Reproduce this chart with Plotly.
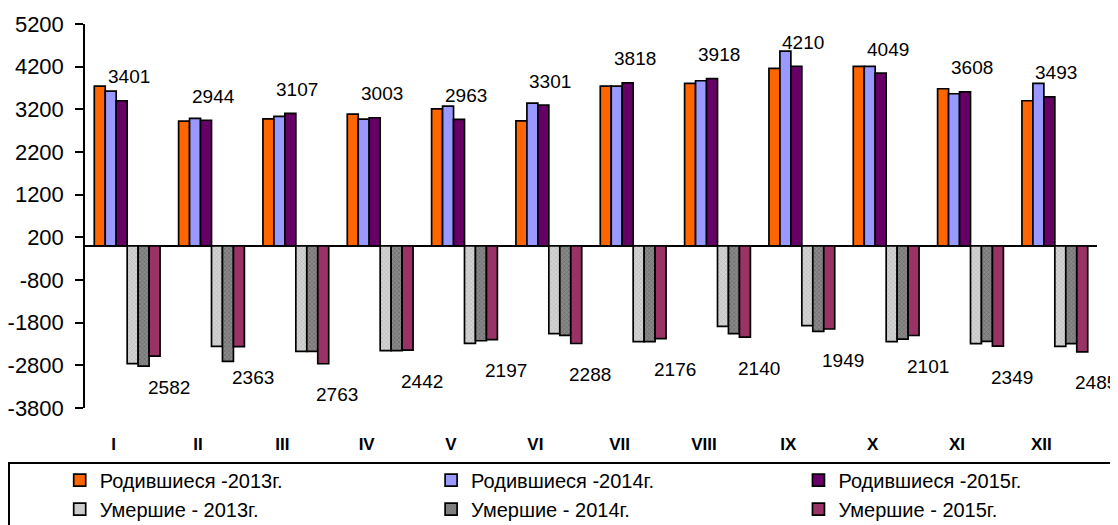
import plotly.graph_objects as go

months = ["I", "II", "III", "IV", "V", "VI", "VII", "VIII", "IX", "X", "XI", "XII"]

births_2013 = [3745, 2923, 2978, 3088, 3213, 2931, 3745, 3808, 4160, 4207, 3682, 3401]
births_2014 = [3627, 2987, 3034, 2970, 3275, 3346, 3745, 3870, 4566, 4207, 3565, 3808]
births_2015 = [3401, 2944, 3107, 3003, 2963, 3301, 3818, 3918, 4210, 4049, 3608, 3493]

deaths_2013 = [2762, 2356, 2473, 2457, 2286, 2058, 2246, 1887, 1871, 2246, 2293, 2356]
deaths_2014 = [2817, 2708, 2473, 2457, 2224, 2098, 2246, 2058, 2004, 2184, 2239, 2293]
deaths_2015 = [2582, 2363, 2763, 2442, 2197, 2288, 2176, 2140, 1949, 2101, 2349, 2485]

y_ticks = [-3800, -2800, -1800, -800, 200, 1200, 2200, 3200, 4200, 5200]
y_tick_labels = [str(v) for v in y_ticks]

FONT = "Liberation Sans, Arial, sans-serif"
idx = list(range(len(months)))

series = [
    ("Родившиеся -2013г.", births_2013, 1, dict(color="#FF6600"), "legend"),
    ("Родившиеся -2014г.", births_2014, 1, dict(color="#9999FF"), "legend2"),
    ("Родившиеся -2015г.", births_2015, 1, dict(color="#660066"), "legend3"),
    ("Умершие - 2013г.", deaths_2013, -1,
     dict(color="#D4D4D4", pattern=dict(shape="x", size=3, solidity=0.35, fgcolor="#9A9A9A")), "legend"),
    ("Умершие - 2014г.", deaths_2014, -1,
     dict(color="#8A8A8A", pattern=dict(shape="x", size=3, solidity=0.45, fgcolor="#505050")), "legend2"),
    ("Умершие - 2015г.", deaths_2015, -1, dict(color="#993366"), "legend3"),
]

fig = go.Figure()
for k, (name, vals, sign, mk, lg) in enumerate(series):
    mk = dict(mk)
    mk["line"] = dict(color="black", width=1.7)
    fig.add_trace(go.Bar(
        x=idx, y=[sign * v for v in vals], name=name, marker=mk,
        legend=lg, legendgroup=name, showlegend=True,
    ))

n_series = len(series)
bargap = 0.22
bw = (1 - bargap) / n_series

def bar_offset(k):
    return (k - (n_series - 1) / 2) * bw

annotations = []
for i in idx:
    annotations.append(dict(
        x=i + bar_offset(2), y=births_2015[i], xref="x", yref="y",
        text=str(births_2015[i]), showarrow=False, xshift=7, yshift=24,
        font=dict(family=FONT, size=19, color="black"),
    ))
    annotations.append(dict(
        x=i + bar_offset(5), y=-deaths_2015[i], xref="x", yref="y",
        text=str(deaths_2015[i]), showarrow=False, xshift=14, yshift=-31,
        font=dict(family=FONT, size=19, color="black"),
    ))

y0, y1 = y_ticks[0], y_ticks[-1]
zero_pos = (0 - y0) / (y1 - y0)

legend_common = dict(
    orientation="v", yanchor="top", y=-0.137, xanchor="left",
    font=dict(family=FONT, size=20, color="black"),
    bgcolor="rgba(0,0,0,0)", borderwidth=0, tracegroupgap=0,
    itemclick=False, itemdoubleclick=False,
)

# page body has an 8px margin; figure sized so the plot area lands where the reference has it
fig.update_layout(
    width=1110, height=517,
    margin=dict(l=77, r=21, t=16, b=117, autoexpand=False),
    paper_bgcolor="white", plot_bgcolor="white",
    barmode="group", bargap=bargap, bargroupgap=0,
    font=dict(family=FONT, size=17, color="black"),
    xaxis=dict(
        range=[-0.5, len(months) - 0.5],
        tickmode="array", tickvals=[i - 0.16 for i in idx], ticktext=months,
        ticks="outside", ticklen=21, tickcolor="rgba(0,0,0,0)",
        showline=False, showgrid=False, zeroline=False,
        tickfont=dict(family=FONT, size=17, color="black", weight="bold"),
    ),
    xaxis2=dict(
        overlaying="x", anchor="free", position=zero_pos,
        range=[-0.5, len(months) - 0.5],
        tickmode="array", tickvals=[i + 0.5 for i in idx],
        ticks="outside", ticklen=5, tickwidth=1.5, tickcolor="black",
        showticklabels=False, showline=False, showgrid=False, zeroline=False,
    ),
    yaxis=dict(
        range=[y0, y1], tickmode="array", tickvals=y_ticks, ticktext=y_tick_labels,
        ticks="outside", ticklen=8, tickwidth=1.5, tickcolor="black",
        ticklabelstandoff=7,
        showline=True, linecolor="black", linewidth=1.5,
        showgrid=False, zeroline=True, zerolinecolor="black", zerolinewidth=2,
        tickfont=dict(family=FONT, size=22, color="black"),
    ),
    legend=dict(legend_common, x=-0.025),
    legend2=dict(legend_common, x=0.342),
    legend3=dict(legend_common, x=0.705),
    annotations=annotations,
    shapes=[dict(
        type="rect", xref="paper", yref="paper",
        x0=-0.0751, x1=1.0158, y0=-0.1432, y1=-0.37,
        line=dict(color="black", width=2), fillcolor="rgba(0,0,0,0)",
    )],
)

fig.write_html("out.html")
